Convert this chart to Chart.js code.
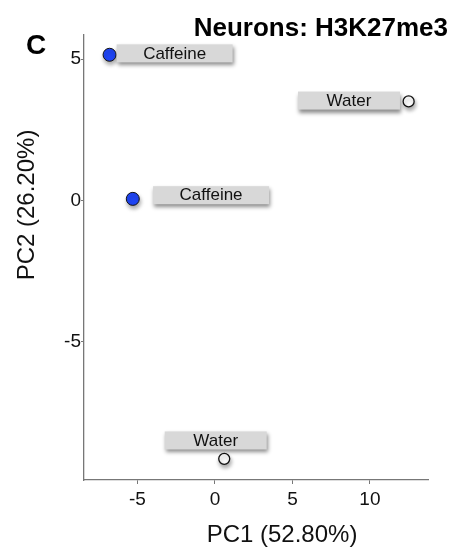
<!DOCTYPE html>
<html>
<head>
<meta charset="utf-8">
<script src="https://cdn.jsdelivr.net/npm/chart.js@4.4.1/dist/chart.umd.min.js"></script>
<style>
  html, body { margin: 0; padding: 0; background: #fff; }
  #wrap { width: 453px; height: 548px; }
</style>
</head>
<body>
<div id="wrap"><canvas id="pca"></canvas></div>
<script>
// PCA scores
const sampleNames = ['Caffeine', 'Caffeine', 'Water', 'Water'];
const pc1 = [-6.8, -5.3, 12.5, 0.6];
const pc2 = [5.15, 0.05, 3.5, -9.15];
// where each grey label box is centred (data units, like ggrepel puts them)
const labelPc1 = [-2.6, -0.25, 8.65, 0.05];
const labelPc2 = [5.2, 0.18, 3.53, -8.5];
const xTicks = [-5, 0, 5, 10];
const yTicks = [-5, 0, 5];

const font = '"Liberation Sans", Arial, Helvetica, sans-serif';

const caffeine = [], water = [];
sampleNames.forEach((name, i) => {
    const pt = { x: pc1[i], y: pc2[i], lx: labelPc1[i], ly: labelPc2[i], name: name };
    if (name === 'Caffeine') caffeine.push(pt); else water.push(pt);
});

// soft drop shadow under the points
const shadowPlugin = {
    id: 'shadow',
    beforeDatasetsDraw(chart) {
        const c = chart.ctx;
        c.save();
        c.shadowColor = 'rgba(0,0,0,0.35)';
        c.shadowBlur = 4;
        c.shadowOffsetX = 1;
        c.shadowOffsetY = 3;
    },
    afterDatasetsDraw(chart) {
        chart.ctx.restore();
    }
};

// grey label boxes, titles and the panel letter
const decorPlugin = {
    id: 'decor',
    afterDatasetsDraw(chart) {
        const c = chart.ctx;
        const xs = chart.scales.x, ys = chart.scales.y;
        chart.data.datasets.forEach(ds => {
            ds.data.forEach(p => {
                const cx = xs.getPixelForValue(p.lx);
                const cy = ys.getPixelForValue(p.ly);
                c.font = '17px ' + font;
                const w = p.name === 'Water' ? 102 : 116;
                const h = 18;
                c.save();
                c.shadowColor = 'rgba(0,0,0,0.45)';
                c.shadowBlur = 4;
                c.shadowOffsetX = 1;
                c.shadowOffsetY = 3;
                c.fillStyle = '#d8d8d8';
                c.fillRect(cx - w / 2, cy - h / 2, w, h);
                c.restore();
                c.fillStyle = '#111';
                c.textAlign = 'center';
                c.textBaseline = 'middle';
                c.fillText(p.name, cx, cy + 0.5);
            });
        });

        c.save();
        c.fillStyle = '#000';
        c.textBaseline = 'alphabetic';
        c.font = 'bold 26px ' + font;
        c.textAlign = 'right';
        c.fillText('Neurons: H3K27me3', 448, 36);
        c.font = 'bold 28px ' + font;
        c.textAlign = 'left';
        c.fillText('C', 26, 54);

        c.font = '24px ' + font;
        c.textAlign = 'center';
        c.fillStyle = '#111';
        c.fillText('PC1 (52.80%)', 282, 542);
        c.translate(34, 205);
        c.rotate(-Math.PI / 2);
        c.fillText('PC2 (26.20%)', 0, 0);
        c.restore();
    }
};

new Chart(document.getElementById('pca'), {
    type: 'scatter',
    data: {
        datasets: [
            {
                label: 'Caffeine',
                data: caffeine,
                pointRadius: 6.5,
                pointHoverRadius: 6.5,
                pointBackgroundColor: '#1f45f5',
                pointBorderColor: '#111',
                pointBorderWidth: 1
            },
            {
                label: 'Water',
                data: water,
                pointRadius: 5.5,
                pointHoverRadius: 5.5,
                pointBackgroundColor: '#ffffff',
                pointBorderColor: '#111',
                pointBorderWidth: 1.3
            }
        ]
    },
    options: {
        responsive: true,
        maintainAspectRatio: false,
        animation: false,
        layout: { padding: { left: 0, right: 25, top: 35, bottom: 0 } },
        plugins: {
            legend: { display: false },
            tooltip: { enabled: false }
        },
        scales: {
            x: {
                min: -8.45,
                max: 13.75,
                afterBuildTicks: s => { s.ticks = xTicks.map(v => ({ value: v })); },
                afterFit: s => { s.height = 68; },
                grid: { display: true, drawOnChartArea: false, drawTicks: true, tickLength: 4, color: '#777' },
                border: { display: true, color: '#777', width: 1.3 },
                ticks: { color: '#111', font: { family: font, size: 19 }, padding: 4 }
            },
            y: {
                min: -9.9,
                max: 5.85,
                afterBuildTicks: s => { s.ticks = yTicks.map(v => ({ value: v })); },
                afterFit: s => { s.width = 84; },
                grid: { display: true, drawOnChartArea: false, drawTicks: true, tickLength: 3, color: '#777' },
                border: { display: true, color: '#777', width: 1.3 },
                ticks: { color: '#111', font: { family: font, size: 19 }, padding: 0 }
            }
        }
    },
    plugins: [shadowPlugin, decorPlugin]
});
</script>
</body>
</html>
